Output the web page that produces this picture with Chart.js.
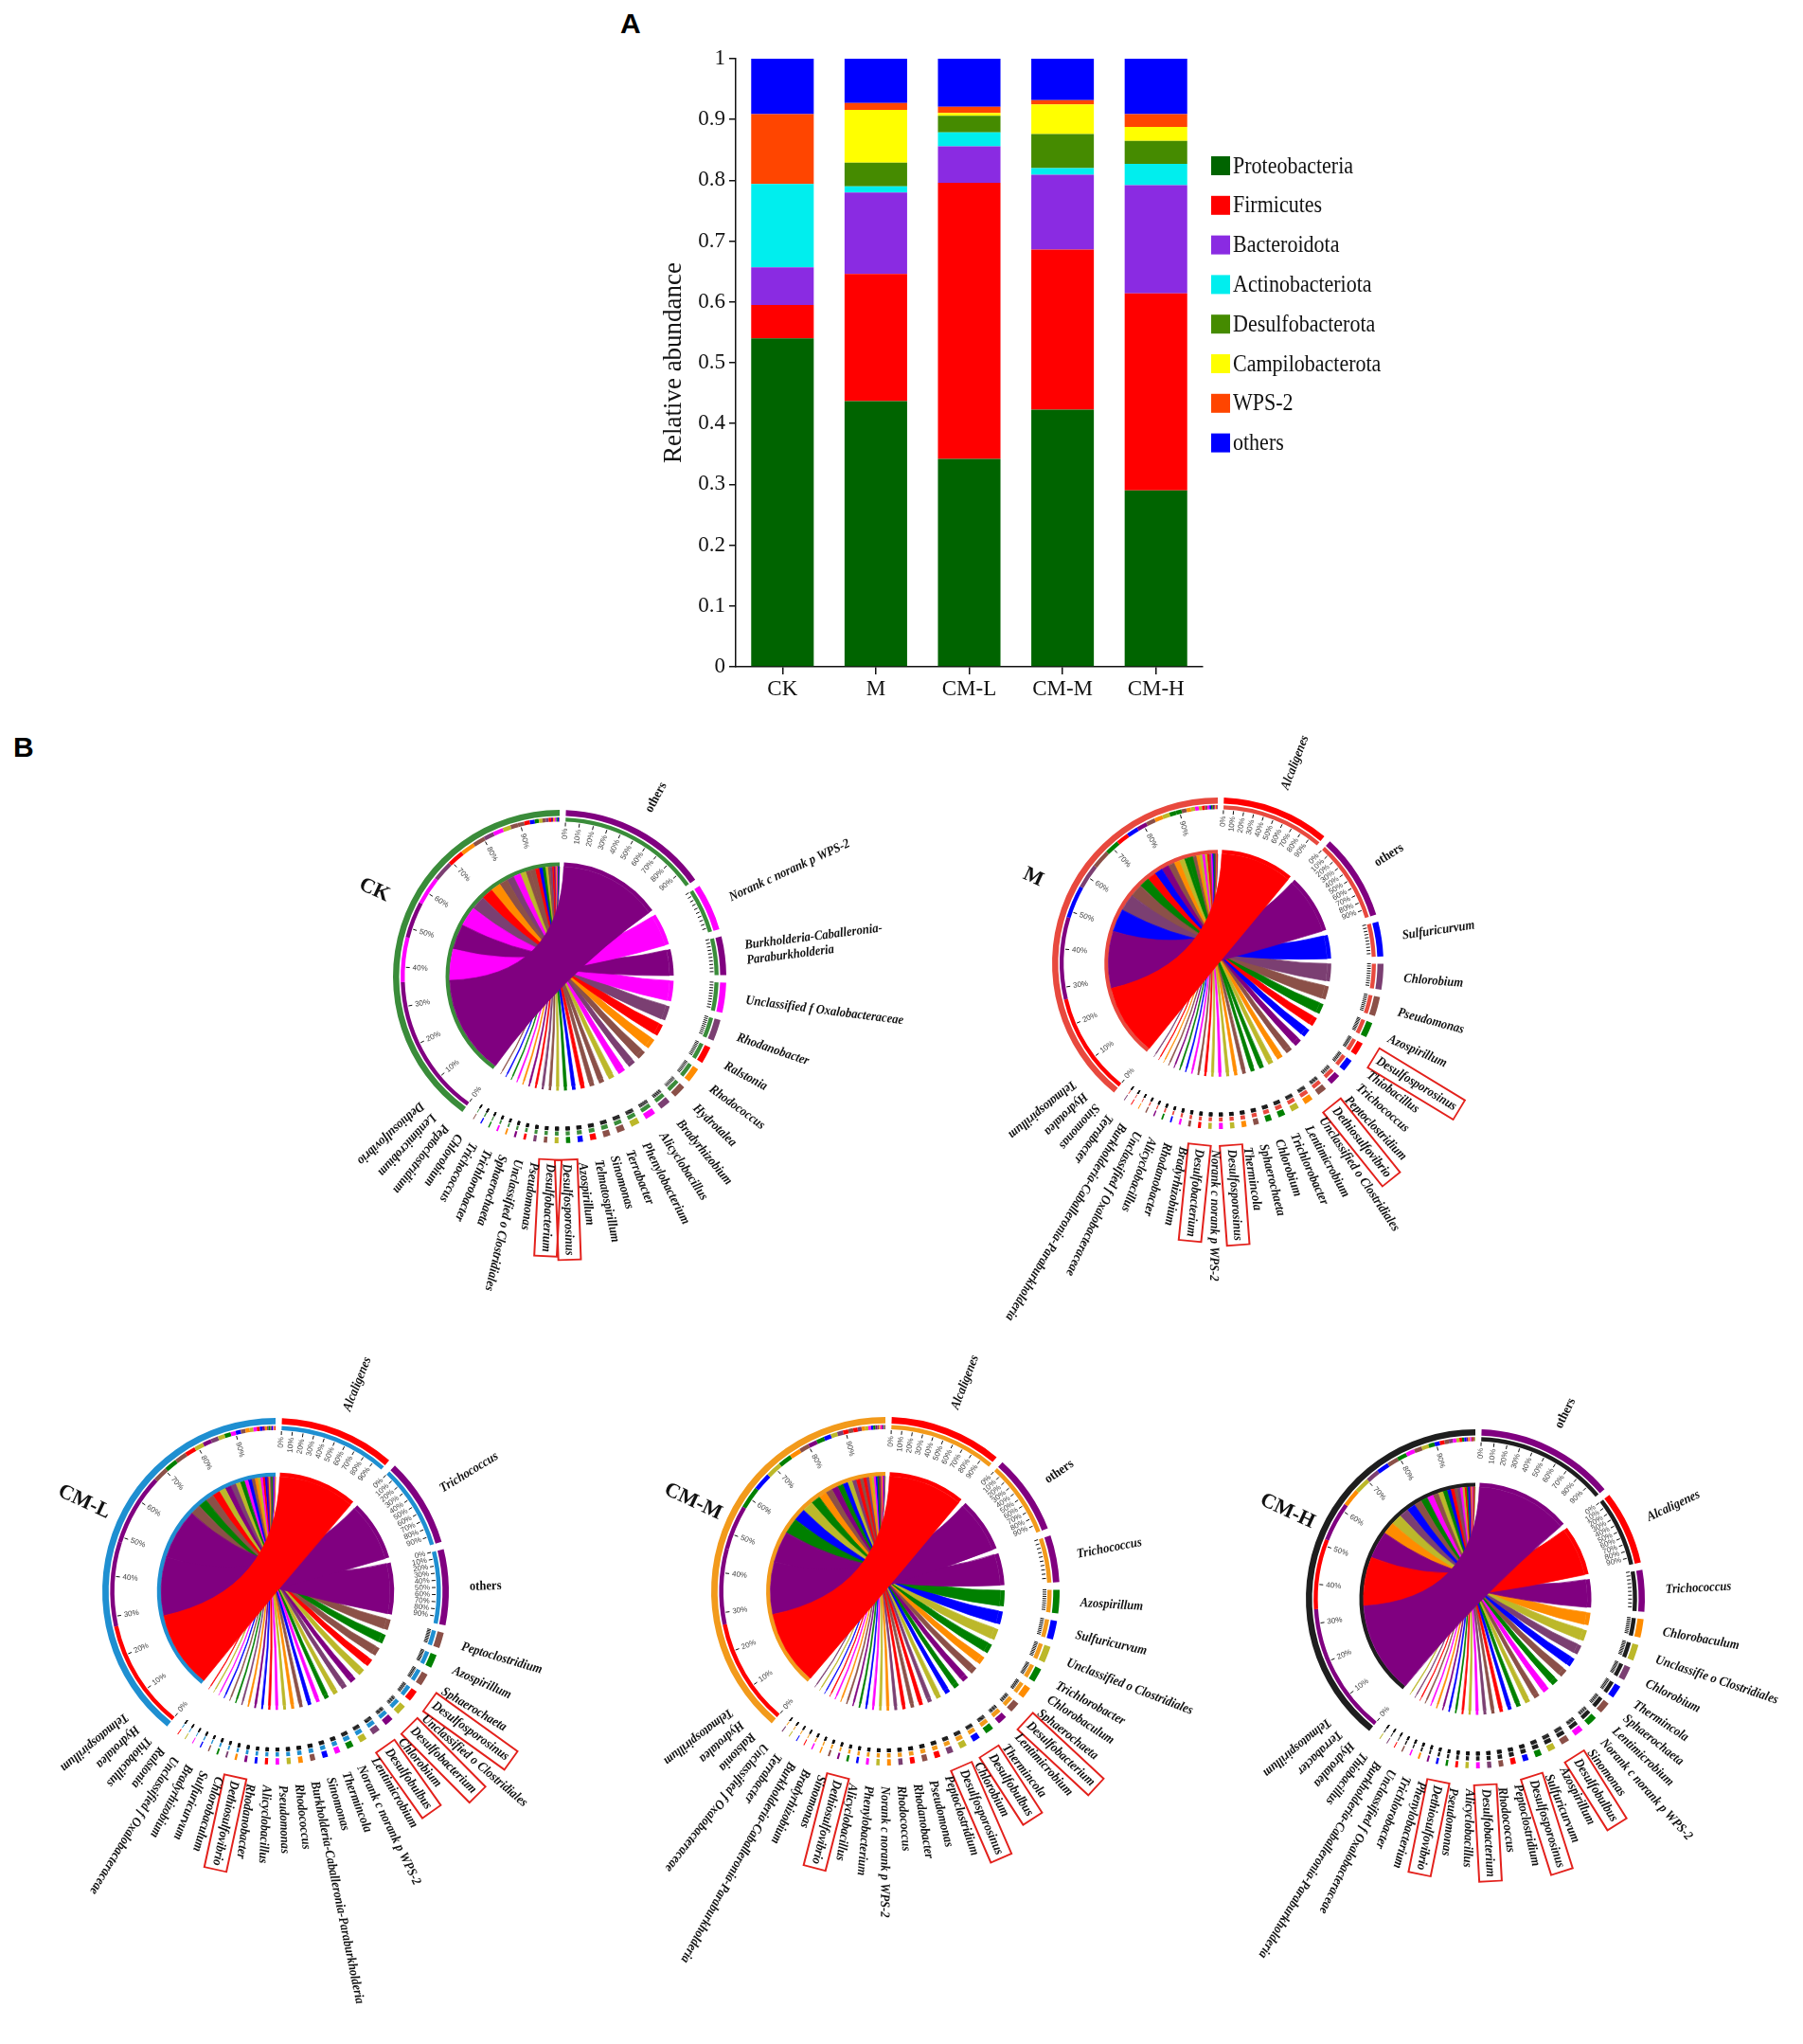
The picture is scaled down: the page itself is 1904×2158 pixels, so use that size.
<!DOCTYPE html>
<html lang="en">
<head>
<meta charset="UTF-8">
<title>Relative abundance and genus circos plots</title>
<script src="https://cdn.jsdelivr.net/npm/chart.js"></script>
<style>
  html, body { margin: 0; padding: 0; background: #fff; }
  body { width: 1904px; height: 2158px; position: relative; overflow: hidden; }
  .letter { position: absolute; font: bold 30px "Liberation Sans", Arial, sans-serif; color: #000; }
  .box { position: absolute; }
</style>
</head>
<body>
<div class="letter" style="left:655px;top:8px">A</div>
<div class="letter" style="left:14px;top:772px">B</div>
<div class="box" style="left:640px;top:0;width:840px;height:760px"><canvas id="bars"></canvas></div>

<script>
// ---------- panel A : phylum level ----------
const groups = ['CK', 'M', 'CM-L', 'CM-M', 'CM-H'];
const phyla = ['Proteobacteria', 'Firmicutes', 'Bacteroidota', 'Actinobacteriota',
               'Desulfobacterota', 'Campilobacterota', 'WPS-2', 'others'];
const proteobacteria   = [0.540, 0.437, 0.342, 0.423, 0.290];
const firmicutes       = [0.055, 0.209, 0.454, 0.263, 0.324];
const bacteroidota     = [0.062, 0.134, 0.060, 0.123, 0.178];
const actinobacteriota = [0.137, 0.010, 0.023, 0.011, 0.035];
const desulfobacterota = [0.000, 0.039, 0.027, 0.056, 0.038];
const campilobacterota = [0.000, 0.087, 0.005, 0.049, 0.023];
const wps2             = [0.115, 0.011, 0.010, 0.007, 0.021];
const otherPhyla       = [0.091, 0.073, 0.079, 0.068, 0.091];
const yTickLabels = ['0', '0.1', '0.2', '0.3', '0.4', '0.5', '0.6', '0.7', '0.8', '0.9', '1'];
const phylumColors = ['#006400', '#ff0000', '#8a2be2', '#00eeee', '#458b00', '#ffff00', '#ff4500', '#0000ff'];

// ---------- panel B : genus level, clockwise from the top ----------
const ckGenera = ['others', 'Norank c norank p WPS-2', 'Burkholderia-Caballeronia-\nParaburkholderia',
  'Unclassified f Oxalobacteraceae', 'Rhodanobacter', 'Ralstonia', 'Rhodococcus', 'Hydrotalea',
  'Bradyrhizobium', 'Alicyclobacillus', 'Phenylobacterium', 'Terrabacter', 'Sinomonas',
  'Telmatospirillum', 'Azospirillum', 'Desulfosporosinus', 'Desulfobacterium', 'Pseudomonas',
  'Unclassified o Clostridiales', 'Sphaerochaeta', 'Trichlorobacter', 'Trichococcus', 'Chlorobium',
  'Peptoclostridium', 'Lentimicrobium', 'Dethiosulfovibrio'];
const ckValues = [0.35, 0.11, 0.09, 0.07, 0.05, 0.04, 0.035, 0.03, 0.025, 0.025, 0.02, 0.018, 0.016,
  0.014, 0.012, 0.01, 0.009, 0.008, 0.007, 0.006, 0.005, 0.004, 0.004, 0.003, 0.003, 0.002];
const ckBoxed = ['Desulfosporosinus', 'Desulfobacterium'];

const mGenera = ['Alcaligenes', 'others', 'Sulfuricurvum', 'Chlorobium', 'Pseudomonas', 'Azospirillum',
  'Desulfosporosinus', 'Thiobacillus', 'Trichococcus', 'Peptoclostridium', 'Dethiosulfovibrio',
  'Unclassified o Clostridiales', 'Lentimicrobium', 'Trichlorobacter', 'Chlorobium', 'Sphaerochaeta',
  'Thermincola', 'Desulfosporosinus', 'Norank c norank p WPS-2', 'Desulfobacterium', 'Bradyrhizobium',
  'Rhodanobacter', 'Alicyclobacillus', 'Unclassified f Oxalobacteraceae',
  'Burkholderia-Caballeronia-Paraburkholderia', 'Terrabacter', 'Sinomonas', 'Hydrotalea', 'Telmatospirillum'];
const mValues = [0.25, 0.20, 0.08, 0.06, 0.045, 0.035, 0.03, 0.028, 0.025, 0.022, 0.02, 0.018, 0.016,
  0.014, 0.012, 0.011, 0.01, 0.009, 0.008, 0.007, 0.006, 0.005, 0.004, 0.004, 0.003, 0.003, 0.002, 0.002, 0.002];
const mBoxed = ['Desulfosporosinus', 'Dethiosulfovibrio', 'Desulfobacterium'];

const cmlGenera = ['Alcaligenes', 'Trichococcus', 'others', 'Peptoclostridium', 'Azospirillum', 'Sphaerochaeta',
  'Desulfosporosinus', 'Unclassified o Clostridiales', 'Desulfobacterium', 'Chlorobium', 'Desulfobulbus',
  'Lentimicrobium', 'Norank c norank p WPS-2', 'Thermincola', 'Sinomonas',
  'Burkholderia-Caballeronia-Paraburkholderia', 'Rhodococcus', 'Pseudomonas', 'Alicyclobacillus',
  'Rhodanobacter', 'Dethiosulfovibrio', 'Chlorobaculum', 'Sulfuricurvum', 'Bradyrhizobium',
  'Unclassified f Oxalobacteraceae', 'Ralstonia', 'Thiobacillus', 'Hydrotalea', 'Telmatospirillum'];
const cmlValues = [0.26, 0.20, 0.17, 0.035, 0.03, 0.028, 0.025, 0.022, 0.02, 0.018, 0.016, 0.015, 0.012,
  0.012, 0.011, 0.01, 0.009, 0.008, 0.007, 0.006, 0.006, 0.005, 0.004, 0.004, 0.003, 0.003, 0.002, 0.002, 0.002];
const cmlBoxed = ['Desulfosporosinus', 'Desulfobacterium', 'Desulfobulbus', 'Dethiosulfovibrio'];

const cmmGenera = ['Alcaligenes', 'others', 'Trichococcus', 'Azospirillum', 'Sulfuricurvum',
  'Unclassified o Clostridiales', 'Trichlorobacter', 'Chlorobaculum', 'Sphaerochaeta', 'Desulfobacterium',
  'Lentimicrobium', 'Thermincola', 'Desulfobulbus', 'Chlorobium', 'Desulfosporosinus', 'Peptoclostridium',
  'Pseudomonas', 'Rhodanobacter', 'Rhodococcus', 'Norank c norank p WPS-2', 'Phenylobacterium',
  'Alicyclobacillus', 'Dethiosulfovibrio', 'Sinomonas', 'Bradyrhizobium',
  'Burkholderia-Caballeronia-Paraburkholderia', 'Terrabacter', 'Unclassified f Oxalobacteraceae',
  'Ralstonia', 'Hydrotalea', 'Telmatospirillum'];
const cmmValues = [0.24, 0.17, 0.10, 0.05, 0.04, 0.035, 0.03, 0.025, 0.022, 0.02, 0.018, 0.016, 0.015,
  0.013, 0.012, 0.011, 0.01, 0.009, 0.008, 0.007, 0.006, 0.005, 0.005, 0.004, 0.004, 0.003, 0.003,
  0.002, 0.002, 0.002, 0.002];
const cmmBoxed = ['Desulfobacterium', 'Desulfobulbus', 'Desulfosporosinus', 'Dethiosulfovibrio'];

const cmhGenera = ['others', 'Alcaligenes', 'Trichococcus', 'Chlorobaculum', 'Unclassifie o Clostridiales',
  'Chlorobium', 'Thermincola', 'Sphaerochaeta', 'Lentimicrobium', 'Norank c norank p WPS-2', 'Sinomonas',
  'Desulfobulbus', 'Azospirillum', 'Sulfuricurvum', 'Desulfosporosinus', 'Peptoclostridium', 'Rhodococcus',
  'Desulfobacterium', 'Alicyclobacillus', 'Pseudomonas', 'Dethiosulfovibrio', 'Phenylobacterium',
  'Trichlorobacter', 'Unclassified f Oxalobacteraceae', 'Burkholderia-Caballeronia-Paraburkholderia',
  'Thiobacillus', 'Hydrotalea', 'Terrabacter', 'Telmatospirillum'];
const cmhValues = [0.30, 0.16, 0.09, 0.04, 0.035, 0.03, 0.028, 0.025, 0.022, 0.02, 0.018, 0.016, 0.014,
  0.012, 0.011, 0.01, 0.009, 0.008, 0.007, 0.006, 0.005, 0.005, 0.004, 0.004, 0.003, 0.003, 0.002, 0.002, 0.002];
const cmhBoxed = ['Desulfobulbus', 'Desulfosporosinus', 'Desulfobacterium', 'Dethiosulfovibrio'];

// colours
const P = '#800080', MG = '#ff00ff', MV = '#7b3f72', R = '#ff0000', O = '#ff8c00',
      BR = '#8b5048', OL = '#bcb82a', G = '#008000', B = '#0000ff';
const sampleColors = ['#3a8c3a', '#e8493e', '#1f8fd1', '#f29a1b', '#1e1e1e'];
const ckColors  = [P, MG, P, MG, MV, R, O, BR, MV, MG, OL, BR, BR, R, B, G, OL, BR, MV, R, P, O, MG, G, B, BR];
const mColors   = [R, P, B, MV, BR, G, R, B, P, BR, O, OL, G, G, BR, O, OL, MG, OL, R, BR, MG, B, G, P, BR, O, R, MV];
const cmlColors = [R, P, P, BR, G, BR, R, OL, P, MV, OL, G, MG, B, BR, O, OL, MG, R, B, P, O, MV, G, BR, B, MG, OL, R];
const cmmColors = [R, P, P, G, B, OL, G, O, BR, P, G, B, OL, MV, R, BR, R, MV, O, OL, MG, B, G, P, BR, O, MG, R, B, OL, MV];
const cmhColors = [P, R, P, O, OL, MV, B, BR, G, MG, BR, OL, G, B, R, BR, MV, MG, OL, R, G, B, P, O, MG, BR, R, MV, OL];

const samples = [
  { name: 'CK',   genera: ckGenera,  values: ckValues,  colors: ckColors,  boxed: ckBoxed },
  { name: 'M',    genera: mGenera,   values: mValues,   colors: mColors,   boxed: mBoxed },
  { name: 'CM-L', genera: cmlGenera, values: cmlValues, colors: cmlColors, boxed: cmlBoxed },
  { name: 'CM-M', genera: cmmGenera, values: cmmValues, colors: cmmColors, boxed: cmmBoxed },
  { name: 'CM-H', genera: cmhGenera, values: cmhValues, colors: cmhColors, boxed: cmhBoxed }
];

// where each circle sits on the page
const circleLayout = [
  { cx: 591,  cy: 1031, r: 176 },
  { cx: 1286, cy: 1017, r: 175 },
  { cx: 291,  cy: 1680, r: 183 },
  { cx: 935,  cy: 1680, r: 184 },
  { cx: 1558, cy: 1688, r: 179 }
];
const GAP = 0.018;   // gap between genus arcs, as part of the sample total
const BIG = 0.03;    // gap between the sample arc and the genus arcs

Chart.defaults.font.family = "'Liberation Serif', 'Times New Roman', serif";
Chart.defaults.color = '#111';

// ---------- stacked bars ----------
const sideLegend = {
  id: 'sideLegend',
  afterDraw(chart) {
    const { ctx, chartArea } = chart;
    ctx.save();
    ctx.font = "25px 'Liberation Serif'";
    ctx.textBaseline = 'middle';
    chart.data.datasets.forEach((ds, i) => {
      const y = chartArea.top + 113 + i * 41.8;
      ctx.fillStyle = ds.backgroundColor;
      ctx.fillRect(chartArea.right + 9, y - 10, 20, 20);
      ctx.fillStyle = '#111';
      ctx.save();
      ctx.translate(chartArea.right + 32, y + 1);
      ctx.scale(0.88, 1);
      ctx.fillText(ds.label, 0, 0);
      ctx.restore();
    });
    ctx.restore();
  }
};

const phylumSeries = [proteobacteria, firmicutes, bacteroidota, actinobacteriota,
                      desulfobacterota, campilobacterota, wps2, otherPhyla];

new Chart(document.getElementById('bars'), {
  type: 'bar',
  data: {
    labels: groups,
    datasets: phylumSeries.map((vals, i) => ({
      label: phyla[i],
      data: vals,
      backgroundColor: phylumColors[i],
      borderWidth: 0,
      barPercentage: 0.67,
      categoryPercentage: 1
    }))
  },
  options: {
    responsive: true,
    maintainAspectRatio: false,
    animation: false,
    events: [],
    layout: { padding: { left: 56, right: 210, top: 62, bottom: 0 } },
    plugins: { legend: { display: false }, tooltip: { enabled: false } },
    scales: {
      x: {
        stacked: true,
        offset: true,
        ticks: { font: { size: 23 }, color: '#111', padding: 2 },
        grid: { display: true, offset: false, drawOnChartArea: false, tickLength: 8, color: '#111', lineWidth: 1.5 },
        border: { color: '#111', width: 1.5 },
        afterFit: s => { s.height = 56; }
      },
      y: {
        stacked: true,
        min: 0,
        max: 1,
        ticks: { stepSize: 0.1, font: { size: 23 }, color: '#111', padding: 4,
                 callback: (v, i) => yTickLabels[i] },
        grid: { display: true, drawOnChartArea: false, tickLength: 7, color: '#111', lineWidth: 1.5 },
        border: { color: '#111', width: 1.5 },
        title: { display: true, text: 'Relative abundance', font: { size: 27 }, color: '#111',
                 padding: { top: 0, bottom: 2 } },
        afterFit: s => { s.width = 81; }
      }
    }
  },
  plugins: [sideLegend]
});

// ---------- circos plots ----------
function ribbon(ctx, cx, cy, r, s0, s1, t0, t1) {
  ctx.beginPath();
  ctx.moveTo(cx + r * Math.cos(s0), cy + r * Math.sin(s0));
  ctx.arc(cx, cy, r, s0, s1);
  ctx.quadraticCurveTo(cx, cy, cx + r * Math.cos(t0), cy + r * Math.sin(t0));
  ctx.arc(cx, cy, r, t0, t1);
  ctx.quadraticCurveTo(cx, cy, cx + r * Math.cos(s0), cy + r * Math.sin(s0));
  ctx.closePath();
  ctx.fill();
  ctx.stroke();
}

function radialTick(ctx, cx, cy, a, r0, r1) {
  ctx.beginPath();
  ctx.moveTo(cx + r0 * Math.cos(a), cy + r0 * Math.sin(a));
  ctx.lineTo(cx + r1 * Math.cos(a), cy + r1 * Math.sin(a));
  ctx.stroke();
}

const circosPlugin = {
  id: 'circos',
  afterDatasetsDraw(chart, args, opts) {
    const s = samples[opts.k];
    const kinds = opts.kinds;
    const ctx = chart.ctx;
    const outer = chart.getDatasetMeta(0).data;
    const band = chart.getDatasetMeta(2).data;
    const inner = chart.getDatasetMeta(4).data;
    const sIdx = kinds.indexOf(-1);
    const gIdx = s.genera.map((g, i) => kinds.indexOf(i));
    const total = s.values.reduce((a, b) => a + b, 0);
    const sa = inner[sIdx];
    const cx = sa.x, cy = sa.y;
    const span = sa.endAngle - sa.startAngle;

    // sample sub-ranges, in genus order from 0 %
    const subs = [];
    let cur = sa.startAngle;
    s.values.forEach(v => { const e = cur + span * v / total; subs.push([cur, e]); cur = e; });

    ctx.save();
    // chords, small ones first so the big ones lie on top
    const rc = sa.innerRadius;
    ctx.lineWidth = 0.7;
    for (let i = s.values.length - 1; i >= 0; i--) {
      const t = inner[gIdx[i]];
      ctx.fillStyle = s.colors[i];
      ctx.strokeStyle = s.colors[i];
      ribbon(ctx, cx, cy, rc, subs[i][0], subs[i][1], t.startAngle, t.endAngle);
    }

    // composition band on the sample arc
    const sb = band[sIdx];
    s.values.forEach((v, i) => {
      ctx.beginPath();
      ctx.arc(cx, cy, sb.outerRadius, subs[i][0], subs[i][1]);
      ctx.arc(cx, cy, sb.innerRadius, subs[i][1], subs[i][0], true);
      ctx.closePath();
      ctx.fillStyle = s.colors[i];
      ctx.fill();
    });

    // scale ticks and labels
    ctx.strokeStyle = '#111';
    ctx.lineWidth = 1;
    ctx.fillStyle = '#444';
    ctx.font = "8px 'Liberation Sans'";
    ctx.textBaseline = 'middle';
    const rt = sb.innerRadius;
    for (let p = 0; p < 10; p++) {
      const a = sb.startAngle + (sb.endAngle - sb.startAngle) * p / 10;
      radialTick(ctx, cx, cy, a, rt - 1, rt - 5);
      ctx.save();
      ctx.translate(cx, cy);
      ctx.rotate(a + Math.PI);
      ctx.textAlign = 'left';
      ctx.fillText(p * 10 + '%', -(rt - 8), 0);
      ctx.restore();
    }
    gIdx.forEach(j => {
      const el = band[j];
      const w = el.endAngle - el.startAngle;
      for (let p = 0; p < 10; p++) {
        const a = el.startAngle + w * p / 10;
        radialTick(ctx, cx, cy, a, el.innerRadius - 1, el.innerRadius - 5);
        if (w > 0.3) {
          ctx.save();
          ctx.translate(cx, cy);
          ctx.rotate(a);
          ctx.textAlign = 'right';
          ctx.fillText(p * 10 + '%', el.innerRadius - 7, 0);
          ctx.restore();
        }
      }
    });

    // genus labels, spread so they do not overlap
    const fs = 14;
    const lr = outer[sIdx].outerRadius + 22;
    const minSep = (fs + 3) / lr;
    const ang = gIdx.map(j => (outer[j].startAngle + outer[j].endAngle) / 2);
    for (let i = 1; i < ang.length; i++) ang[i] = Math.max(ang[i], ang[i - 1] + minSep);
    const lim = sa.startAngle + 0.2;
    if (ang[ang.length - 1] > lim) {
      ang[ang.length - 1] = lim;
      for (let i = ang.length - 2; i >= 0; i--) ang[i] = Math.min(ang[i], ang[i + 1] - minSep);
    }
    ctx.fillStyle = '#111';
    s.genera.forEach((g, i) => {
      ctx.save();
      ctx.translate(cx, cy);
      ctx.rotate(ang[i]);
      ctx.translate(lr, 0);
      ctx.scale(0.9, 1);
      ctx.font = (g === 'others' ? 'bold ' : 'bold italic ') + fs + "px 'Liberation Serif'";
      ctx.textAlign = 'left';
      ctx.textBaseline = 'middle';
      const lines = g.split('\n');
      let w = 0;
      lines.forEach((ln, j) => {
        ctx.fillText(ln, 0, (j - (lines.length - 1) / 2) * (fs + 2));
        w = Math.max(w, ctx.measureText(ln).width);
      });
      if (s.boxed.includes(g)) {
        ctx.strokeStyle = '#e3211c';
        ctx.lineWidth = 2;
        ctx.strokeRect(-5, -fs * 0.85, w + 10, fs * 1.7);
      }
      ctx.restore();
    });

    // sample name
    const na = -155 * Math.PI / 180;
    const nr = outer[sIdx].outerRadius + 40;
    ctx.save();
    ctx.translate(cx + nr * Math.cos(na), cy + nr * Math.sin(na));
    ctx.rotate(na + Math.PI);
    ctx.font = "bold 22px 'Liberation Serif'";
    ctx.textAlign = 'center';
    ctx.textBaseline = 'middle';
    ctx.fillText(s.name, 0, 0);
    ctx.restore();
    ctx.restore();
  }
};

samples.forEach((s, k) => {
  const L = circleLayout[k];
  const box = document.createElement('div');
  box.className = 'box';
  box.style.left = (L.cx - 500) + 'px';
  box.style.top = (L.cy - 500) + 'px';
  box.style.width = '1000px';
  box.style.height = '1000px';
  const cv = document.createElement('canvas');
  box.appendChild(cv);
  document.body.appendChild(box);

  const total = s.values.reduce((a, b) => a + b, 0);
  const ringData = [], kinds = [];
  s.values.forEach((v, i) => {
    if (i > 0) { ringData.push(total * GAP); kinds.push(-2); }
    ringData.push(v); kinds.push(i);
  });
  ringData.push(total * BIG); kinds.push(-2);
  ringData.push(total); kinds.push(-1);
  ringData.push(total * BIG / 2); kinds.push(-2);
  const sumAll = ringData.reduce((a, b) => a + b, 0);
  const rot = (total * BIG / 2) / sumAll * 360;

  const sc = sampleColors[k];
  const paint = role => kinds.map(t => {
    if (t === -2) return 'rgba(0,0,0,0)';
    if (role === 'outer' || role === 'inner') return t === -1 ? sc : s.colors[t];
    if (role === 'band') return t === -1 ? 'rgba(0,0,0,0)' : sc;
    return 'rgba(0,0,0,0)';
  });
  const rings = [
    { role: 'outer', weight: 6 },
    { role: 'space', weight: 1.5 },
    { role: 'band', weight: 4 },
    { role: 'space', weight: 40 },
    { role: 'inner', weight: 4 }
  ];

  new Chart(cv, {
    type: 'doughnut',
    data: {
      labels: kinds.map(t => t >= 0 ? s.genera[t] : (t === -1 ? s.name : '')),
      datasets: rings.map(rg => ({
        data: ringData,
        backgroundColor: paint(rg.role),
        borderWidth: 0,
        weight: rg.weight
      }))
    },
    options: {
      responsive: true,
      maintainAspectRatio: false,
      animation: false,
      events: [],
      cutout: '66%',
      rotation: rot,
      layout: { padding: 500 - L.r },
      plugins: { legend: { display: false }, tooltip: { enabled: false }, circos: { k: k, kinds: kinds } }
    },
    plugins: [circosPlugin]
  });
});
</script>
</body>
</html>
